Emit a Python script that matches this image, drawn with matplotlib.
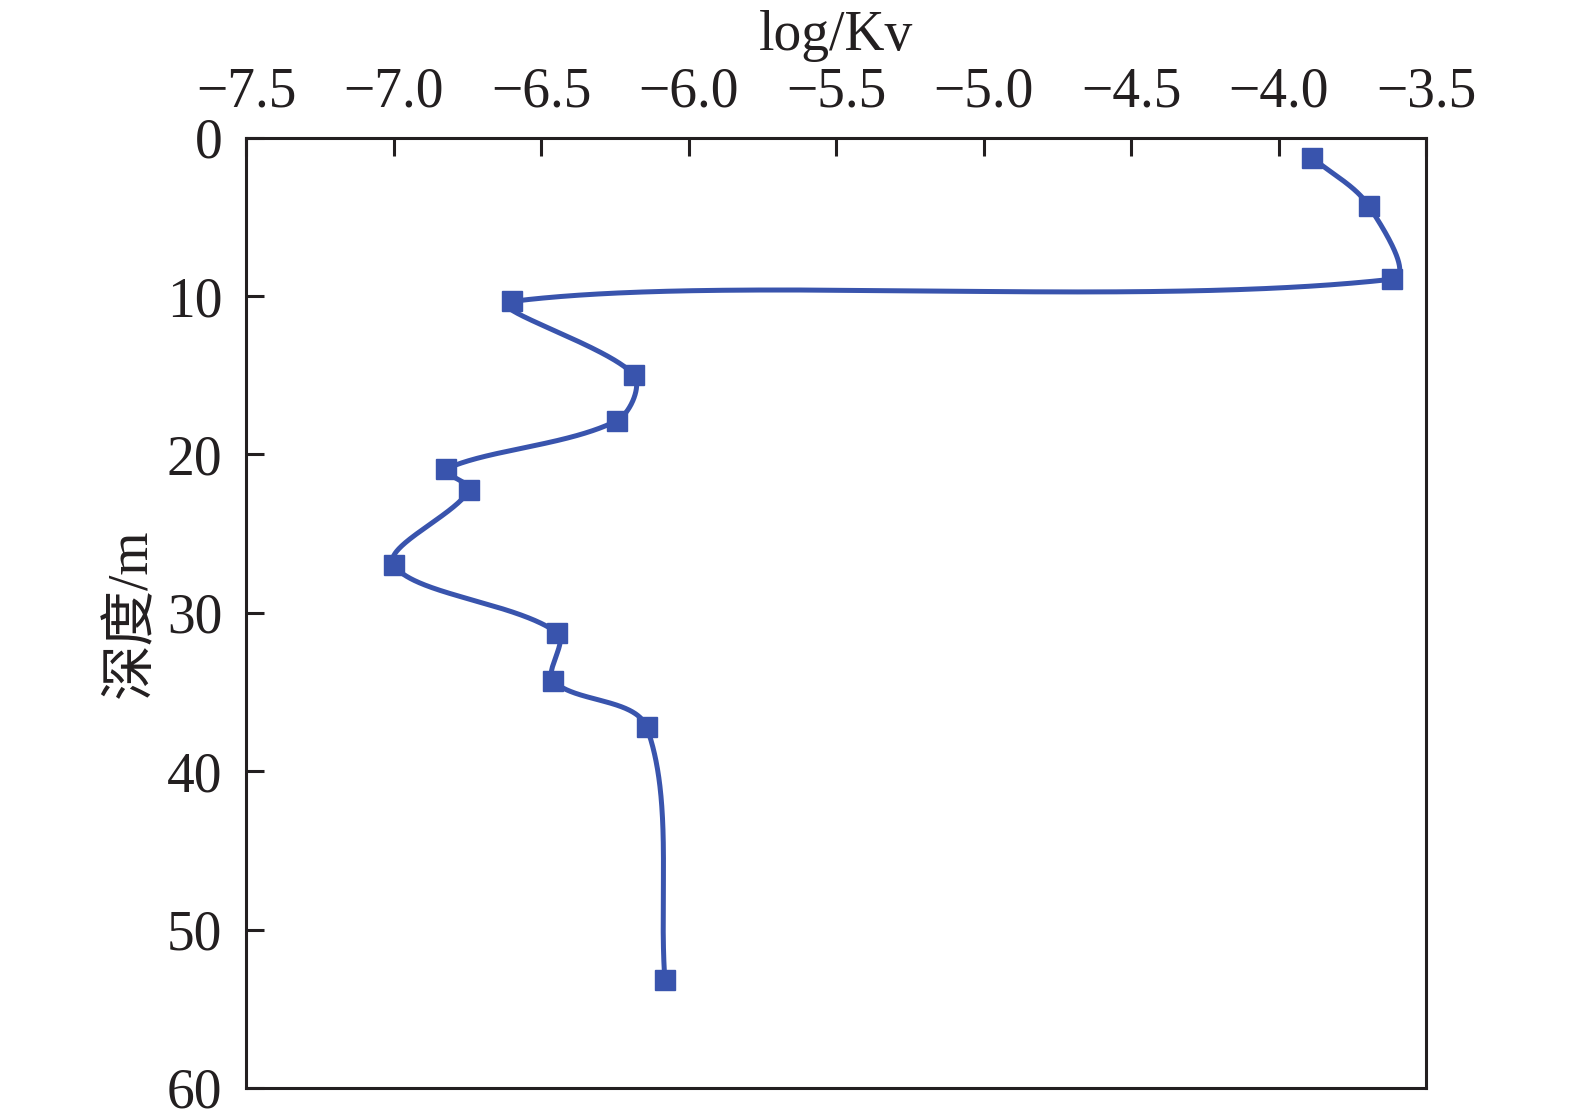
import numpy as np
import matplotlib
matplotlib.use("Agg")
import matplotlib.pyplot as plt

# 数据 (log Kv 与 深度)
log_kv = [-3.885, -3.694, -3.616, -6.598, -6.186, -6.244, -6.823,
          -6.744, -7.000, -6.445, -6.458, -6.142, -6.080]
depth = [1.27, 4.31, 8.94, 10.34, 14.97, 17.88, 20.93,
         22.26, 26.95, 31.26, 34.30, 37.22, 53.20]
x_ticks = [-7.5, -7.0, -6.5, -6.0, -5.5, -5.0, -4.5, -4.0, -3.5]
y_ticks = [0, 10, 20, 30, 40, 50, 60]

color = '#3954ad'


def smooth_curve(pts, n_seg=200):
    # Catmull-Rom 样条, 弦长参数
    seg = np.hypot(*np.diff(pts, axis=0).T)
    t = np.concatenate([[0], np.cumsum(seg)])
    n = len(pts)
    der = np.zeros_like(pts)
    der[0] = (pts[1] - pts[0]) / (t[1] - t[0])
    der[-1] = (pts[-1] - pts[-2]) / (t[-1] - t[-2])
    for i in range(1, n - 1):
        der[i] = (pts[i + 1] - pts[i - 1]) / (t[i + 1] - t[i - 1])
    out = []
    s = np.linspace(0, 1, n_seg)[:, None]
    h00 = 2 * s**3 - 3 * s**2 + 1
    h10 = s**3 - 2 * s**2 + s
    h01 = -2 * s**3 + 3 * s**2
    h11 = s**3 - s**2
    for i in range(n - 1):
        dt = t[i + 1] - t[i]
        out.append(h00 * pts[i] + h10 * der[i] * dt
                   + h01 * pts[i + 1] + h11 * der[i + 1] * dt)
    return np.vstack(out)


plt.rcParams['font.family'] = ['Liberation Serif', 'Noto Sans CJK SC']
plt.rcParams['axes.unicode_minus'] = True

fig = plt.figure(figsize=(15.75, 11.2), dpi=100)
ax = fig.add_axes([0.1562, 0.0286, 0.7492, 0.8485])
ax.set_xlim(-7.5, -3.5)
ax.set_ylim(60, 0)

# 在屏幕坐标中做平滑, 再转回数据坐标
fig.canvas.draw()
pix = ax.transData.transform(np.column_stack([log_kv, depth]))
curve = ax.transData.inverted().transform(smooth_curve(pix))

ax.plot(curve[:, 0], curve[:, 1], color=color, lw=3.6, zorder=3)
ax.plot(log_kv, depth, 's', color=color, ms=15, zorder=4)

ax.xaxis.tick_top()
ax.xaxis.set_label_position('top')
ax.set_xticks(x_ticks)
ax.set_yticks(y_ticks)
ax.tick_params(axis='both', direction='in', length=13, width=2.2,
               labelsize=40, color='#231f20', labelcolor='#231f20')
ax.tick_params(axis='x', pad=14)
ax.tick_params(axis='y', pad=17)
for s in ax.spines.values():
    s.set_linewidth(2.2)
    s.set_color('#231f20')

ax.set_xlabel('log/Kv', fontsize=40, labelpad=12, color='#231f20')
ax.set_ylabel('深度/m', fontsize=40, labelpad=6, color='#231f20')

fig.savefig('out.png', dpi=100)
